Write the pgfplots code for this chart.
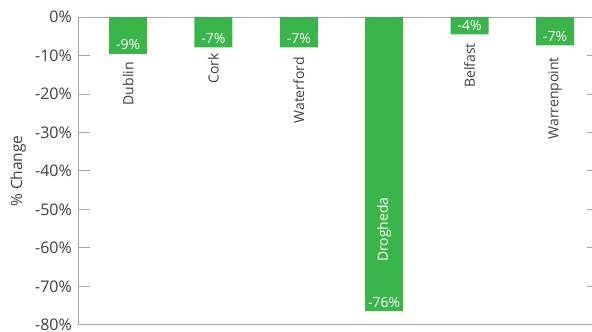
\documentclass[border=0pt]{standalone}
\usepackage{fontspec}
\setmainfont{Open Sans}
\usepackage{pgfplots}
\pgfplotsset{compat=1.18}
\usepackage{pgfplotstable}
\definecolor{barg}{HTML}{3AB54A}
\definecolor{axg}{HTML}{A6A6A6}
\definecolor{txt}{HTML}{404040}

\pgfplotstableread{
x y lab
0 -9.6 -9\%
1 -7.9 -7\%
2 -7.9 -7\%
3 -76.4 -76\%
4 -4.5 -4\%
5 -7.4 -7\%
}\bars

\pgfplotstableread{
x y lab
0 -11.7 Dublin
1 -9.35 Cork
2 -10.4 Waterford
4 -6.75 Belfast
5 -10.4 Warrenpoint
}\names

\pgfplotstableread{
x y lab
3 -46.8 Drogheda
}\namesin

\begin{document}
\begin{tikzpicture}
\begin{axis}[
  at={(79pt,7pt)}, anchor=south west,
  scale only axis, width=518.7pt, height=308pt,
  xmin=-0.574, xmax=5.5, ymin=-80, ymax=0,
  axis line style={axg, line width=1pt},
  xtick=\empty,
  ytick={-80,-70,...,0},
  yticklabels={-80\%,-70\%,-60\%,-50\%,-40\%,-30\%,-20\%,-10\%,0\%},
  yticklabel style={font=\fontsize{16}{16}\selectfont, text=txt, inner sep=0pt, anchor=east, xshift=-7pt},
  tick style={axg, line width=1pt},
  major tick length=11pt,
  tick align=inside,
  ytick pos=both,
  yticklabel pos=left,
  ylabel={\% Change},
  every axis y label/.style={at={(axis description cs:0,0.5)}, xshift=-61pt, rotate=90, anchor=center, font=\fontsize{15.5}{15.5}\selectfont, text=txt},
  clip=false,
]
\addplot[ybar, bar width=38pt, bar shift=0pt, fill=barg, draw=none,
  nodes near coords, point meta=explicit symbolic,
  every node near coord/.style={anchor=base, yshift=4pt, inner sep=0pt, text=white, font=\fontsize{14}{14}\selectfont}]
  table[x=x, y=y, meta=lab]{\bars};
\addplot[draw=none, mark=none,
  nodes near coords, point meta=explicit symbolic,
  every node near coord/.style={rotate=90, anchor=east, inner sep=0pt, text=txt, font=\fontsize{14}{14}\selectfont}]
  table[x=x, y=y, meta=lab]{\names};
\addplot[draw=none, mark=none,
  nodes near coords, point meta=explicit symbolic,
  every node near coord/.style={rotate=90, anchor=east, inner sep=0pt, text=white, font=\fontsize{14}{14}\selectfont}]
  table[x=x, y=y, meta=lab]{\namesin};
\end{axis}
\pgfresetboundingbox
\path[use as bounding box] (0,0) rectangle (592pt,332pt);
\end{tikzpicture}
\end{document}
